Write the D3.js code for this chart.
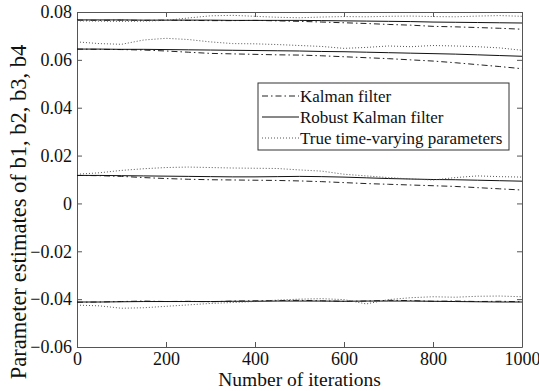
<!DOCTYPE html>
<html>
<head>
<meta charset="utf-8">
<script src="https://cdn.jsdelivr.net/npm/d3@7"></script>
<style>
  body { margin: 0; background: #fff; }
</style>
</head>
<body>
<div id="chart"></div>
<script>
// iterations sampled every 50 steps
var iterations = d3.range(0, 1001, 50);

// b1
var b1Kalman = [0.0766,0.0765,0.0766,0.0765,0.0766,0.0765,0.0764,0.0764,0.0765,0.0763,0.0761,0.0758,0.0755,0.0752,0.0748,0.0745,0.0740,0.0738,0.0735,0.0732,0.0728];
var b1Robust = [0.0767,0.0767,0.0767,0.0766,0.0766,0.0766,0.0766,0.0765,0.0765,0.0765,0.0765,0.0764,0.0763,0.0762,0.0761,0.0760,0.0758,0.0757,0.0756,0.0755,0.0754];
var b1True   = [0.0763,0.0762,0.0761,0.0762,0.0765,0.0775,0.0784,0.0786,0.0782,0.0778,0.0776,0.0779,0.0781,0.0780,0.0782,0.0783,0.0781,0.0780,0.0783,0.0785,0.0782];
// b2
var b2Kalman = [0.0645,0.0644,0.0643,0.0641,0.0637,0.0632,0.0627,0.0625,0.0623,0.0621,0.0620,0.0617,0.0613,0.0609,0.0605,0.0600,0.0595,0.0588,0.0580,0.0572,0.0563];
var b2Robust = [0.0645,0.0645,0.0644,0.0644,0.0643,0.0642,0.0641,0.0640,0.0639,0.0638,0.0637,0.0635,0.0634,0.0632,0.0630,0.0628,0.0626,0.0624,0.0621,0.0618,0.0615];
var b2True   = [0.0675,0.0668,0.0665,0.0683,0.0690,0.0685,0.0675,0.0668,0.0667,0.0664,0.0660,0.0656,0.0648,0.0652,0.0658,0.0655,0.0660,0.0658,0.0655,0.0650,0.0640];
// b3
var b3Kalman = [0.0117,0.0116,0.0113,0.0108,0.0104,0.0101,0.0099,0.0098,0.0097,0.0096,0.0094,0.0091,0.0087,0.0083,0.0080,0.0077,0.0074,0.0071,0.0066,0.0061,0.0056];
var b3Robust = [0.0117,0.0117,0.0116,0.0115,0.0114,0.0113,0.0112,0.0111,0.0111,0.0112,0.0113,0.0112,0.0110,0.0107,0.0104,0.0102,0.0100,0.0099,0.0097,0.0095,0.0093];
var b3True   = [0.0122,0.0128,0.0138,0.0145,0.0150,0.0152,0.0150,0.0148,0.0147,0.0146,0.0140,0.0135,0.0122,0.0115,0.0108,0.0102,0.0098,0.0108,0.0115,0.0112,0.0110];
// b4
var b4Kalman = [-0.0413,-0.0412,-0.0410,-0.0408,-0.0410,-0.0409,-0.0411,-0.0408,-0.0407,-0.0406,-0.0405,-0.0407,-0.0409,-0.0408,-0.0405,-0.0406,-0.0409,-0.0408,-0.0410,-0.0409,-0.0411];
var b4Robust = [-0.0412,-0.0412,-0.0411,-0.0410,-0.0410,-0.0410,-0.0410,-0.0409,-0.0409,-0.0408,-0.0408,-0.0408,-0.0409,-0.0408,-0.0408,-0.0408,-0.0409,-0.0410,-0.0411,-0.0412,-0.0412];
var b4True   = [-0.0425,-0.0428,-0.0438,-0.0436,-0.0430,-0.0424,-0.0418,-0.0414,-0.0410,-0.0404,-0.0400,-0.0398,-0.0402,-0.0420,-0.0402,-0.0394,-0.0390,-0.0392,-0.0388,-0.0387,-0.0390];

var xTicks = [0, 200, 400, 600, 800, 1000];
var yTicks = [-0.06, -0.04, -0.02, 0, 0.02, 0.04, 0.06, 0.08];
var legendLabels = ["Kalman filter", "Robust Kalman filter", "True time-varying parameters"];

var width = 539, height = 391;
var margin = {left: 77, top: 12, right: 17, bottom: 44};
var w = width - margin.left - margin.right,
    h = height - margin.top - margin.bottom;
var serif = '"Liberation Serif", "Times New Roman", Times, serif';

var styles = [
  {dash: "6,3,1.5,3", color: "#222"},
  {dash: null, color: "#111"},
  {dash: "1,2", color: "#555"}
];

var svg = d3.select('#chart').append('svg')
        .attr('width', width)
        .attr('height', height);
svg.append('rect').attr('width', width).attr('height', height).style('fill', '#fff');

var x = d3.scaleLinear().domain([0, 1000]).range([0, w]);
var y = d3.scaleLinear().domain([-0.06, 0.08]).range([h, 0]);

var g = svg.append('g').attr('transform', 'translate(' + margin.left + ',' + margin.top + ')');

var fmtY = function (d) { return d === 0 ? "0" : d3.format(".2f")(d); };
var fmtX = d3.format("d");

function styleAxis(sel) {
    sel.attr('font-family', serif).attr('font-size', 18);
    sel.selectAll('path, line').attr('stroke', '#555').attr('stroke-width', 1);
    sel.selectAll('text').style('font-family', serif).style('font-size', '18px').attr('fill', '#111');
}

g.append('g').attr('transform', 'translate(0,' + h + ')')
        .call(d3.axisBottom(x).tickValues(xTicks).tickSize(-5).tickSizeOuter(0).tickPadding(5).tickFormat(fmtX))
        .call(styleAxis);
g.append('g')
        .call(d3.axisTop(x).tickValues(xTicks).tickSize(-5).tickSizeOuter(0).tickFormat(''))
        .call(styleAxis);
g.append('g')
        .call(d3.axisLeft(y).tickValues(yTicks).tickSize(-5).tickSizeOuter(0).tickPadding(5).tickFormat(fmtY))
        .call(styleAxis);
g.append('g').attr('transform', 'translate(' + w + ',0)')
        .call(d3.axisRight(y).tickValues(yTicks).tickSize(-5).tickSizeOuter(0).tickFormat(''))
        .call(styleAxis);

var line = d3.line()
        .x(function (d) { return x(d[0]); })
        .y(function (d) { return y(d[1]); });

var groups = [
  [b1Kalman, b1Robust, b1True],
  [b2Kalman, b2Robust, b2True],
  [b3Kalman, b3Robust, b3True],
  [b4Kalman, b4Robust, b4True]
];

groups.forEach(function (grp) {
    grp.forEach(function (vals, k) {
        g.append('path')
                .datum(iterations.map(function (it, i) { return [it, vals[i]]; }))
                .attr('d', line)
                .attr('fill', 'none')
                .attr('stroke', styles[k].color)
                .attr('stroke-width', 1)
                .attr('stroke-dasharray', styles[k].dash);
    });
});

// legend
var legend = svg.append('g').attr('transform', 'translate(258,83)');
legend.append('rect').attr('width', 251).attr('height', 67)
        .attr('fill', '#fff').attr('stroke', '#333').attr('stroke-width', 1);
legendLabels.forEach(function (lab, i) {
    var ly = 13 + i * 21;
    legend.append('line').attr('x1', 4).attr('x2', 41).attr('y1', ly).attr('y2', ly)
            .attr('stroke', styles[i].color).attr('stroke-width', 1)
            .attr('stroke-dasharray', styles[i].dash);
    legend.append('text').attr('x', 42).attr('y', ly + 5.5)
            .style('font-family', serif).style('font-size', '17px').attr('fill', '#111')
            .text(lab);
});

// axis labels
svg.append('text')
        .attr('x', margin.left + w / 2).attr('y', 386)
        .attr('text-anchor', 'middle')
        .style('font-family', serif).style('font-size', '19.5px').attr('fill', '#111')
        .text('Number of iterations');
svg.append('text')
        .attr('transform', 'translate(26,212)rotate(-90)')
        .attr('text-anchor', 'middle')
        .style('font-family', serif).style('font-size', '22.5px').attr('fill', '#111')
        .text('Parameter estimates of b1, b2, b3, b4');
</script>
</body>
</html>
